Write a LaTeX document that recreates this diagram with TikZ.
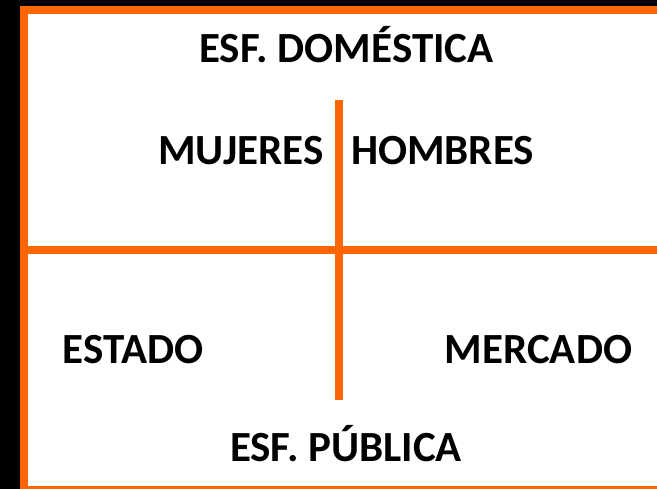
\documentclass[tikz,border=0pt]{standalone}
\usepackage{fontspec}
\setmainfont{Carlito}
\definecolor{orng}{HTML}{FF6600}
\begin{document}
\begin{tikzpicture}[x=1pt,y=-1pt,
  lbl/.style={font=\bfseries\fontsize{43}{50}\selectfont, text=black, inner sep=0pt, anchor=base}]
\useasboundingbox (0,0) rectangle (657,489);
\begin{scope}
\clip (0,0) rectangle (657,489);
\fill[black] (0,0) rectangle (657,489);
\fill[orng] (20,6) rectangle (670,500);
\fill[white] (28,14) rectangle (670,486);
\end{scope}
\coordinate (hl) at (28,250);
\coordinate (hr) at (657,250);
\coordinate (vt) at (339,100);
\coordinate (vb) at (339,400.5);
\draw[orng, line width=8pt] (hl) -- (hr);
\draw[orng, line width=8pt] (vt) -- (vb);
\node[lbl] (dom) at (346.5,63) {ESF. DOMÉSTICA};
\node[lbl] (muj) at (241,165) {MUJERES};
\node[lbl] (hom) at (442.5,165) {HOMBRES};
\node[lbl] (est) at (133,364) {ESTADO};
\node[lbl] (mer) at (538.5,364) {MERCADO};
\node[lbl] (pub) at (346,462) {ESF. PÚBLICA};
\end{tikzpicture}
\end{document}
